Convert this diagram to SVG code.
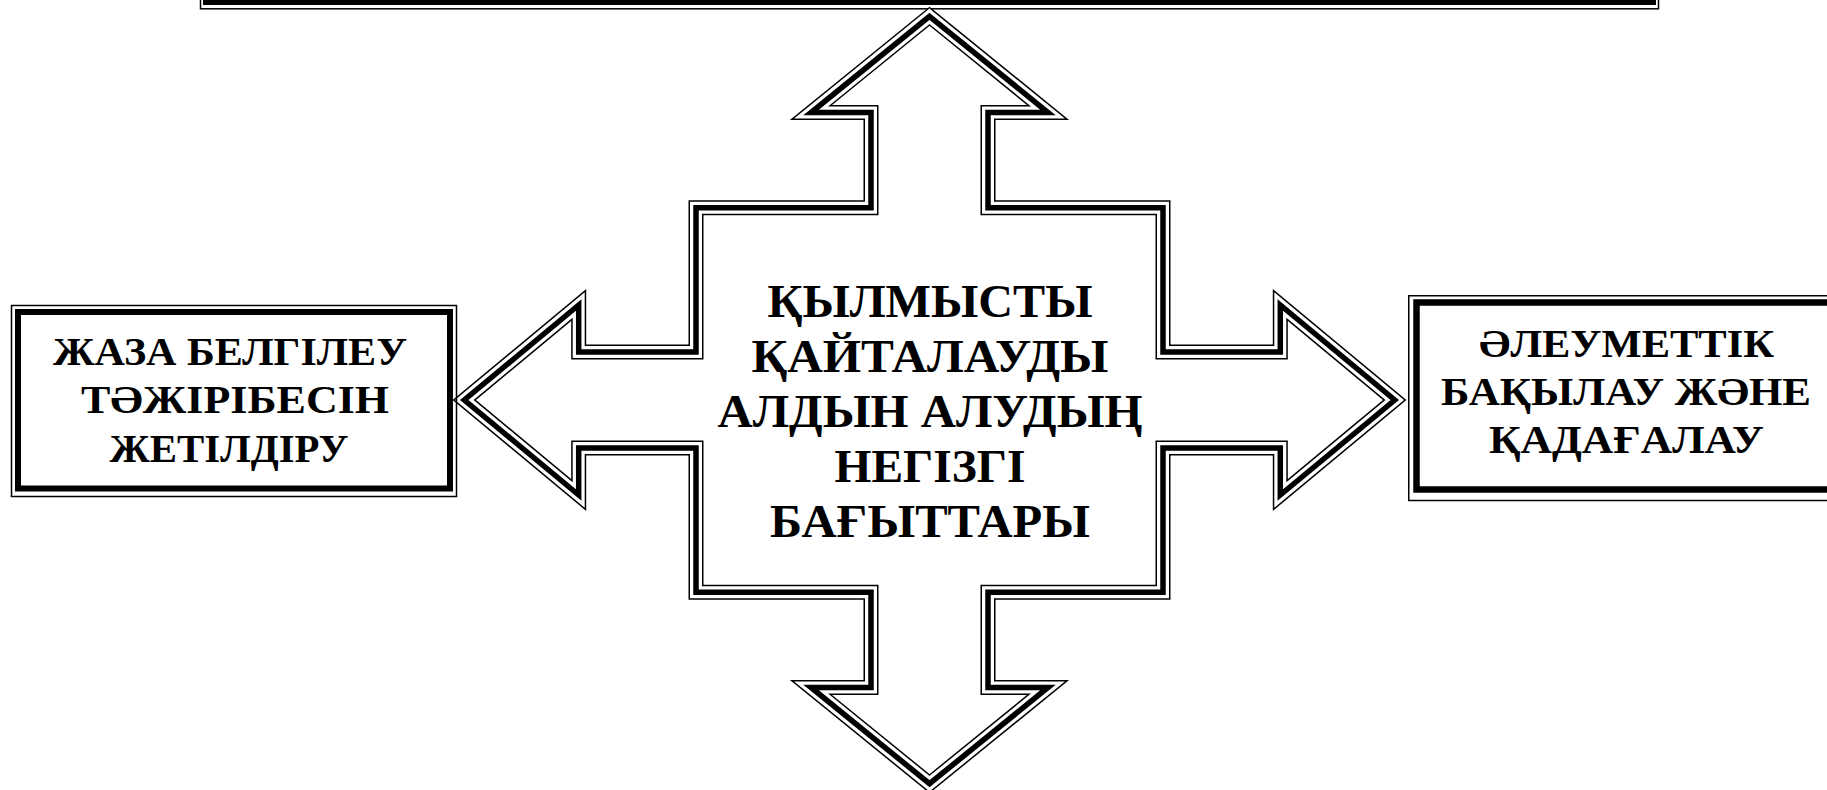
<svg xmlns="http://www.w3.org/2000/svg" xmlns:xlink="http://www.w3.org/1999/xlink" width="1827" height="790" viewBox="0 0 1827 790">
<style>
.t{font-family:"Liberation Serif","DejaVu Serif","Noto Serif",serif;font-weight:bold;fill:#000;text-anchor:middle}
.s40{font-size:40px}
.s46{font-size:46px}
.thin{fill:none;stroke:#000;stroke-width:1.5}
.thick{fill:none;stroke:#000;stroke-width:6}
.c1{fill:#fff;stroke:#000;stroke-width:15;stroke-linejoin:miter;stroke-miterlimit:10}
.c2{fill:none;stroke:#fff;stroke-width:12;stroke-linejoin:miter;stroke-miterlimit:10}
.c3{fill:none;stroke:#000;stroke-width:5.5;stroke-linejoin:miter;stroke-miterlimit:10}
</style>
<defs>
<path id="cross" d="M929.5,16.3 L1048,112.5 L988,112.5 L988,207.7 L1163,207.7 L1163,352 L1280.3,352 L1280.3,305 L1394.7,400 L1280.3,495 L1280.3,448 L1163,448 L1163,592.3 L988,592.3 L988,687.5 L1048,687.5 L929.5,783.7 L811,687.5 L871,687.5 L871,592.3 L696,592.3 L696,448 L578.7,448 L578.7,495 L464.3,400 L578.7,305 L578.7,352 L696,352 L696,207.7 L871,207.7 L871,112.5 L811,112.5 Z"/>
</defs>
<rect width="1827" height="790" fill="#fff"/>
<g id="node-top">
<rect class="thin" x="200.5" y="-200" width="1458" height="208.8"/>
<rect class="thick" x="206" y="-200" width="1447" height="202"/>
</g>
<g id="node-center">
<use xlink:href="#cross" class="c1"/>
<use xlink:href="#cross" class="c2"/>
<use xlink:href="#cross" class="c3"/>
<text class="t s46" x="930" y="316.7" textLength="325" lengthAdjust="spacingAndGlyphs">ҚЫЛМЫСТЫ</text>
<text class="t s46" x="930" y="371.7" textLength="357" lengthAdjust="spacingAndGlyphs">ҚАЙТАЛАУДЫ</text>
<text class="t s46" x="930" y="426.7" textLength="425" lengthAdjust="spacingAndGlyphs">АЛДЫН АЛУДЫҢ</text>
<text class="t s46" x="930" y="481.7" textLength="191" lengthAdjust="spacingAndGlyphs">НЕГІЗГІ</text>
<text class="t s46" x="930" y="536.7" textLength="320" lengthAdjust="spacingAndGlyphs">БАҒЫТТАРЫ</text>
</g>
<g id="node-left">
<rect class="thin" x="11.5" y="305.5" width="445" height="191" fill="#fff"/>
<rect class="thick" x="18" y="312" width="432" height="176.5"/>
<text class="t s40" x="230" y="365" textLength="354" lengthAdjust="spacingAndGlyphs">ЖАЗА БЕЛГІЛЕУ</text>
<text class="t s40" x="235" y="413.3" textLength="308" lengthAdjust="spacingAndGlyphs">ТӘЖІРІБЕСІН</text>
<text class="t s40" x="229" y="461.7" textLength="239" lengthAdjust="spacingAndGlyphs">ЖЕТІЛДІРУ</text>
</g>
<g id="node-right">
<rect class="thin" x="1408.75" y="295.75" width="436" height="204.75" fill="#fff"/>
<rect class="thick" x="1416.5" y="302.5" width="420" height="187" style="stroke-width:6.5"/>
<text class="t s40" x="1626.5" y="357" textLength="295" lengthAdjust="spacingAndGlyphs">ӘЛЕУМЕТТІК</text>
<text class="t s40" x="1626" y="405" textLength="370" lengthAdjust="spacingAndGlyphs">БАҚЫЛАУ ЖӘНЕ</text>
<text class="t s40" x="1626.5" y="453" textLength="275" lengthAdjust="spacingAndGlyphs">ҚАДАҒАЛАУ</text>
</g>
<g id="connectors"/>
</svg>
